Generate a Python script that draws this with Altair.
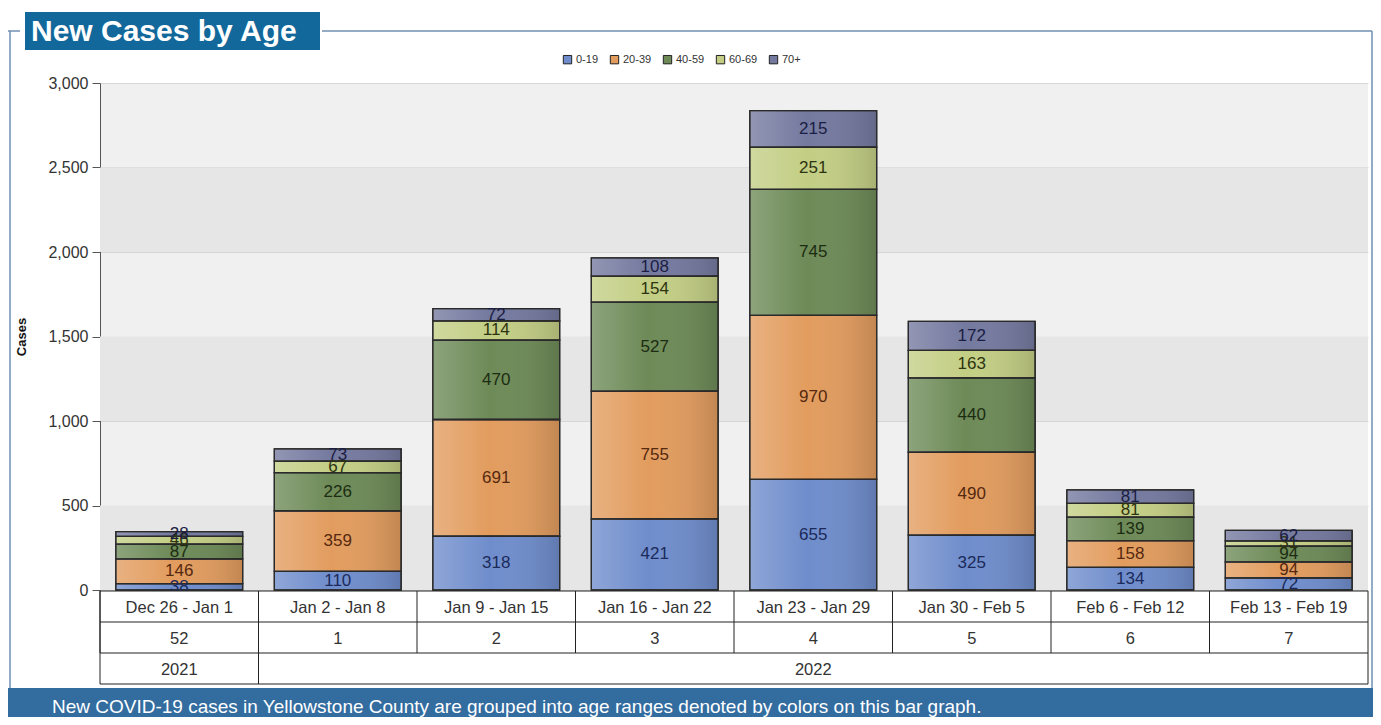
import altair as alt
import pandas as pd

weeks = ["Dec 26 - Jan 1", "Jan 2 - Jan 8", "Jan 9 - Jan 15", "Jan 16 - Jan 22",
         "Jan 23 - Jan 29", "Jan 30 - Feb 5", "Feb 6 - Feb 12", "Feb 13 - Feb 19"]
week_nums = ["52", "1", "2", "3", "4", "5", "6", "7"]
year_labels = ["2021", "2022"]
year_weeks = ["Dec 26 - Jan 1", "Jan 23 - Jan 29"]
groups = ["0-19", "20-39", "40-59", "60-69", "70+"]
vals_0_19 = [38, 110, 318, 421, 655, 325, 134, 72]
vals_20_39 = [146, 359, 691, 755, 970, 490, 158, 94]
vals_40_59 = [87, 226, 470, 527, 745, 440, 139, 94]
vals_60_69 = [46, 67, 114, 154, 251, 163, 81, 31]
vals_70p = [28, 73, 72, 108, 215, 172, 81, 62]
band_lo = [0, 1000, 2000]
band_hi = [500, 1500, 2500]

colors = ["#6f8dcc", "#e29c5e", "#6d8a57", "#c3ce84", "#74799f"]
label_colors = ["#1b2a5a", "#55290f", "#1c2c12", "#2d3410", "#1b1e44"]

series = [vals_0_19, vals_20_39, vals_40_59, vals_60_69, vals_70p]
rows = []
for gi, g in enumerate(groups):
    for wi, w in enumerate(weeks):
        rows.append({"week": w, "group": g, "order": gi, "cases": series[gi][wi],
                     "lab_color": label_colors[gi]})
df = pd.DataFrame(rows)

W, H = 1268, 507
FONT = "Liberation Sans"

xs = alt.Scale(domain=weeks, paddingInner=0, paddingOuter=0)
ys = alt.Scale(domain=[0, 3000], nice=False)

base = alt.Chart(df)

bands = alt.Chart(pd.DataFrame({"lo": band_lo, "hi": band_hi})).mark_rect(
    fill="#e6e6e6"
).encode(
    y=alt.Y("lo:Q", scale=ys, axis=alt.Axis(
        values=[0, 500, 1000, 1500, 2000, 2500, 3000], format=",.0f",
        title="Cases", titleFontSize=13, titleFontWeight="bold", titleFont=FONT,
        titleColor="#111", titleX=-72, titleY=H / 2, titleAngle=-90,
        labelFont=FONT, labelFontSize=16, labelColor="#333", labelPadding=4,
        tickSize=8, tickColor="#555", domainColor="#555",
        grid=True, gridColor="#d6d6d6", gridWidth=1)),
    y2="hi:Q",
    x=alt.value(0), x2=alt.value(W),
)

stacked = base.transform_stack(
    stack="cases", as_=["y0", "y1"], groupby=["week"], sort=[alt.SortField("order")]
).transform_calculate(mid="(datum.y0 + datum.y1) / 2")

bars = stacked.mark_bar(
    width=alt.RelativeBandSize(0.8), stroke="#2a2a2a", strokeWidth=1.3
).encode(
    x=alt.X("week:N", scale=xs, axis=None),
    y=alt.Y("y0:Q", scale=ys),
    y2="y1:Q",
    color=alt.Color("group:N", scale=alt.Scale(domain=groups, range=colors),
                    legend=alt.Legend(
                        orient="none", legendX=462, legendY=-29, direction="horizontal",
                        title=None, symbolType="square", symbolSize=70,
                        symbolStrokeColor="#222", symbolStrokeWidth=1,
                        labelFont=FONT, labelFontSize=11, labelColor="#333",
                        columnPadding=9, symbolOpacity=1, labelOffset=3)),
)

shade = stacked.mark_bar(
    width=alt.RelativeBandSize(0.8),
    fill=alt.Gradient(gradient="linear", x1=0, x2=1, y1=0, y2=0, stops=[
        alt.GradientStop(color="rgba(255,255,255,0.22)", offset=0),
        alt.GradientStop(color="rgba(255,255,255,0.0)", offset=0.45),
        alt.GradientStop(color="rgba(0,0,0,0.14)", offset=1),
    ]),
    stroke="#2a2a2a", strokeWidth=1.3,
).encode(
    x=alt.X("week:N", scale=xs),
    y=alt.Y("y0:Q", scale=ys),
    y2="y1:Q",
)

labels = stacked.mark_text(font=FONT, fontSize=17, baseline="middle").encode(
    x=alt.X("week:N", scale=xs),
    y=alt.Y("mid:Q", scale=ys),
    text="cases:Q",
    color=alt.Color("lab_color:N", scale=None),
)

# table under the plot
wk_df = pd.DataFrame({"week": weeks, "num": week_nums})
yr_df = pd.DataFrame({"week": year_weeks, "year": year_labels})

r1, r2, r3, r4 = 508, 539, 570, 601
tcol = "#333"
tline = "#222"
TFS = 16.5

week_text = alt.Chart(wk_df).mark_text(font=FONT, fontSize=TFS, color=tcol, baseline="middle").encode(
    x=alt.X("week:N", scale=xs), y=alt.value((r1 + r2) / 2 + 1), text="week:N")
num_text = alt.Chart(wk_df).mark_text(font=FONT, fontSize=TFS, color=tcol, baseline="middle").encode(
    x=alt.X("week:N", scale=xs), y=alt.value((r2 + r3) / 2 + 1), text="num:N")
yr_text = alt.Chart(yr_df).mark_text(font=FONT, fontSize=TFS, color=tcol, baseline="middle").encode(
    x=alt.X("week:N", scale=xs), y=alt.value((r3 + r4) / 2 + 1), text="year:N")

vlines = alt.Chart(wk_df).mark_rule(color=tline, strokeWidth=1).encode(
    x=alt.X("week:N", scale=xs, bandPosition=0), y=alt.value(r1), y2=alt.value(r3))
yr_vline = alt.Chart(pd.DataFrame({"week": [weeks[1]]})).mark_rule(color=tline, strokeWidth=1).encode(
    x=alt.X("week:N", scale=xs, bandPosition=0), y=alt.value(r3), y2=alt.value(r4))

one = pd.DataFrame({"k": [0]})
table_box = alt.Chart(one).mark_rect(
    fill="white", stroke=tline, strokeWidth=1).encode(
    x=alt.value(0), x2=alt.value(W), y=alt.value(r1), y2=alt.value(r4))
hl1 = alt.Chart(one).mark_rule(color=tline).encode(
    x=alt.value(0), x2=alt.value(W), y=alt.value(r2))
hl2 = alt.Chart(one).mark_rule(color=tline).encode(
    x=alt.value(0), x2=alt.value(W), y=alt.value(r3))

# decorations: frame, title box, footer
frame_col = "#6f8fb2"
frame_top = alt.Chart(one).mark_rule(color=frame_col, strokeWidth=1.5).encode(
    x=alt.value(222), x2=alt.value(1272), y=alt.value(-52))
frame_tick = alt.Chart(one).mark_rule(color=frame_col, strokeWidth=1.5).encode(
    x=alt.value(-92), x2=alt.value(-80), y=alt.value(-52))
frame_left = alt.Chart(one).mark_rule(color=frame_col, strokeWidth=1.5).encode(
    x=alt.value(-90), y=alt.value(-52), y2=alt.value(605))
frame_right = alt.Chart(one).mark_rule(color=frame_col, strokeWidth=1.5).encode(
    x=alt.value(1272), y=alt.value(-52), y2=alt.value(605))

title_box = alt.Chart(one).mark_rect(fill="#12689a").encode(
    x=alt.value(-75), x2=alt.value(220), y=alt.value(-71), y2=alt.value(-33))
title_text = alt.Chart(pd.DataFrame({"t": ["New Cases by Age"]})).mark_text(
    font=FONT, fontSize=30, fontWeight="bold", color="white", align="left", baseline="middle"
).encode(x=alt.value(-69), y=alt.value(-51), text="t:N")

footer = alt.Chart(one).mark_rect(fill="#336c9f").encode(
    x=alt.value(-92), x2=alt.value(1273), y=alt.value(605), y2=alt.value(640))
footer_text = alt.Chart(pd.DataFrame({"t": [
    "New COVID-19 cases in Yellowstone County are grouped into age ranges denoted by colors on this bar graph."]})
).mark_text(font=FONT, fontSize=19, color="white", align="left", baseline="middle").encode(
    x=alt.value(-48), y=alt.value(624), text="t:N")

chart = alt.layer(
    bands, bars, shade, labels,
    table_box, hl1, hl2, vlines, yr_vline, week_text, num_text, yr_text,
    frame_top, frame_tick, frame_left, frame_right, title_box, title_text,
    footer, footer_text,
).properties(
    width=W, height=H,
    autosize=alt.AutoSizeParams(type="none"),
    padding={"left": 92, "top": 75, "right": 5, "bottom": 127},
    background="white",
).configure_view(fill="#f0f0f0", stroke=None)

chart.save("out.html", embed_options={"renderer": "svg", "actions": False})
